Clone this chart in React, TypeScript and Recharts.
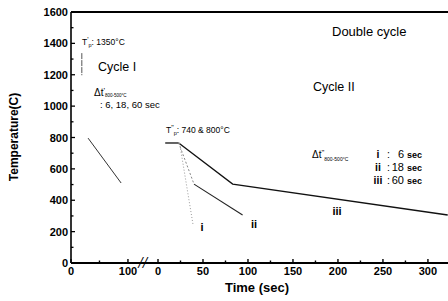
import React from 'react';
import { LineChart, Line, XAxis, YAxis, ReferenceLine } from 'recharts';

// broken time axis: cycle I is compressed, cycle II restarts at 0 after the "//"
const SEG1_SCALE = 0.633;
const SEG2_OFFSET = 96.7;
const BREAK_AT = 80;
const X_MAX = 419;

const seg1Ticks = [0, 100];
const seg1Minor = [50];
const seg2Ticks = [0, 50, 100, 150, 200, 250, 300];
const seg2Minor = [25, 75, 125, 175, 225, 275];
const yTicks = [0, 200, 400, 600, 800, 1000, 1200, 1400, 1600];
const yMinor = [100, 300, 500, 700, 900, 1100, 1300, 1500];

// cycle I (seconds on first segment)
const peakITime = [19, 19];
const peakITemp = [1338, 1197];
const cycleITime = [30, 88];
const cycleITemp = [796, 510];

// cycle II (seconds on second segment)
const holdTime = [8, 23];
const holdTemp = [765, 765];
const iiiTime = [23, 83, 322];
const iiiTemp = [765, 503, 306];
const iiFastTime = [23, 40];
const iiFastTemp = [765, 503];
const iiSlowTime = [40, 94];
const iiSlowTemp = [503, 306];
const iTime = [24, 39];
const iTemp = [765, 242];

const u1 = (t: number) => t * SEG1_SCALE;
const u2 = (t: number) => SEG2_OFFSET + t;

const toPoints = (times: number[], temps: number[], fn: (t: number) => number) =>
  times.map((t, i) => ({ u: fn(t), T: temps[i] }));

type TickInfo = { kind: 'major' | 'minor' | 'break'; label: string };
const xTickInfo: Record<string, TickInfo> = {};
const addTick = (u: number, info: TickInfo) => {
  xTickInfo[u.toFixed(2)] = info;
};
seg1Ticks.forEach((t) => addTick(u1(t), { kind: 'major', label: String(t) }));
seg1Minor.forEach((t) => addTick(u1(t), { kind: 'minor', label: '' }));
seg2Ticks.forEach((t) => addTick(u2(t), { kind: 'major', label: String(t) }));
seg2Minor.forEach((t) => addTick(u2(t), { kind: 'minor', label: '' }));
addTick(BREAK_AT, { kind: 'break', label: '//' });
const xTicks = Object.keys(xTickInfo).map(Number).sort((a, b) => a - b);

const allYTicks = [...yTicks, ...yMinor].sort((a, b) => a - b);

const FONT = '"Liberation Sans", Arial, Helvetica, sans-serif';
const INK = '#000000';

function XTick(props: any) {
  const { x, y, payload } = props;
  const info = xTickInfo[Number(payload.value).toFixed(2)];
  if (!info) return null;
  if (info.kind === 'break') {
    return (
      <text x={x} y={y + 4} textAnchor="middle" fontFamily="DejaVu Serif, serif" fontStyle="italic" fontSize={13} fill={INK}>
        //
      </text>
    );
  }
  const len = info.kind === 'major' ? 4 : 2.5;
  return (
    <g>
      <line x1={x} x2={x} y1={y} y2={y - len} stroke={INK} strokeWidth={1.4} />
      {info.kind === 'major' && (
        <text x={x} y={y + 12} textAnchor="middle" fontFamily={FONT} fontWeight="bold" fontSize={11} fill={INK}>
          {info.label}
        </text>
      )}
    </g>
  );
}

function YTick(props: any) {
  const { x, y, payload } = props;
  const major = yTicks.includes(payload.value);
  return (
    <g>
      <line x1={x} x2={x + (major ? 4 : 2.5)} y1={y} y2={y} stroke={INK} strokeWidth={1.3} />
      {major && (
        <text x={x - 3} y={y + 4} textAnchor="end" fontFamily={FONT} fontWeight="bold" fontSize={11} fill={INK}>
          {payload.value}
        </text>
      )}
    </g>
  );
}

function Note({ x, y, size, bold, anchor, children }: any) {
  return (
    <text
      x={x}
      y={y}
      fontSize={size}
      fontFamily={FONT}
      fontWeight={bold ? 'bold' : 'normal'}
      textAnchor={anchor || 'start'}
      fill={INK}
      stroke="none"
    >
      {children}
    </text>
  );
}

const romans = ['i', 'ii', 'iii'];
const legendTimes = ['6', '18', '60'];

export default function App() {
  return (
    <div style={{ position: 'absolute', left: 0, top: 0, width: 448, height: 301, background: '#fff' }}>
      <LineChart width={448} height={301} margin={{ top: 12, right: 0, bottom: 0, left: 0 }}>
        <XAxis
          type="number"
          dataKey="u"
          domain={[0, X_MAX]}
          ticks={xTicks}
          interval={0}
          allowDataOverflow
          tickSize={0}
          tickMargin={0}
          height={38}
          tick={<XTick />}
          axisLine={{ stroke: INK, strokeWidth: 2 }}
        />
        <YAxis
          type="number"
          domain={[0, 1600]}
          ticks={allYTicks}
          interval={0}
          tickSize={0}
          tickMargin={0}
          width={71}
          tick={<YTick />}
          axisLine={{ stroke: INK, strokeWidth: 1.6 }}
        />
        <ReferenceLine y={1600} stroke={INK} strokeWidth={2} />
        <Line data={toPoints(peakITime, peakITemp, u1)} dataKey="T" type="linear" dot={false} stroke="#555" strokeWidth={1} strokeDasharray="6 1" isAnimationActive={false} />
        <Line data={toPoints(cycleITime, cycleITemp, u1)} dataKey="T" type="linear" dot={false} stroke="#333" strokeWidth={1} isAnimationActive={false} />
        <Line data={toPoints(holdTime, holdTemp, u2)} dataKey="T" type="linear" dot={false} stroke="#111" strokeWidth={1.3} isAnimationActive={false} />
        <Line data={toPoints(iiiTime, iiiTemp, u2)} dataKey="T" type="linear" dot={false} stroke="#111" strokeWidth={1.3} isAnimationActive={false} />
        <Line data={toPoints(iiFastTime, iiFastTemp, u2)} dataKey="T" type="linear" dot={false} stroke="#888" strokeWidth={1} strokeDasharray="2 2" isAnimationActive={false} />
        <Line data={toPoints(iiSlowTime, iiSlowTemp, u2)} dataKey="T" type="linear" dot={false} stroke="#222" strokeWidth={1.1} isAnimationActive={false} />
        <Line data={toPoints(iTime, iTemp, u2)} dataKey="T" type="linear" dot={false} stroke="#999" strokeWidth={1} strokeDasharray="1 2" isAnimationActive={false} />
      </LineChart>

      <svg width={448} height={301} style={{ position: 'absolute', left: 0, top: 0, pointerEvents: 'none' }}>
        <text x={18} y={137} transform="rotate(-90 18 137)" textAnchor="middle" fontFamily={FONT} fontWeight="bold" fontSize={12} fill={INK}>
          Temperature(C)
        </text>
        <Note x={257} y={292} size={13} bold anchor="middle">Time (sec)</Note>

        <Note x={332} y={36} size={13}>Double cycle</Note>
        <Note x={98} y={71} size={12.5}>Cycle I</Note>
        <Note x={313} y={91} size={12.5}>Cycle II</Note>

        <Note x={82} y={45} size={8.5}>
          T<tspan dy={-3} fontSize={7}>'</tspan>
          <tspan dy={5} fontSize={5.5}>p</tspan>
          <tspan dy={-2}>: 1350°C</tspan>
        </Note>

        <Note x={94} y={96} size={10}>
          Δt<tspan dy={-3} fontSize={8}>'</tspan>
          <tspan dy={4} fontSize={4.5}>800-500°C</tspan>
        </Note>
        <Note x={100} y={108} size={9.5}>: 6, 18, 60 sec</Note>

        <Note x={166} y={133} size={8.5}>
          T<tspan dy={-3} fontSize={7}>"</tspan>
          <tspan dy={5} fontSize={5.5}>p</tspan>
          <tspan dy={-2}>: 740 &amp; 800°C</tspan>
        </Note>

        <Note x={312} y={158} size={10}>
          Δt<tspan dy={-3} fontSize={8}>"</tspan>
          <tspan dy={6} fontSize={5}>800-500°C</tspan>
        </Note>

        {romans.map((r, k) => (
          <g key={r}>
            <Note x={378} y={158 + k * 13} size={10.5} bold anchor="middle">{r}</Note>
            <Note x={387} y={158 + k * 13} size={10.5}>:</Note>
            <Note x={404} y={158 + k * 13} size={11} anchor="end">{legendTimes[k]}</Note>
            <Note x={407} y={158 + k * 13} size={9} bold>sec</Note>
          </g>
        ))}

        <Note x={202} y={231} size={11} bold anchor="middle">i</Note>
        <Note x={254} y={228} size={11} bold anchor="middle">ii</Note>
        <Note x={337} y={215} size={11} bold anchor="middle">iii</Note>
      </svg>
    </div>
  );
}
